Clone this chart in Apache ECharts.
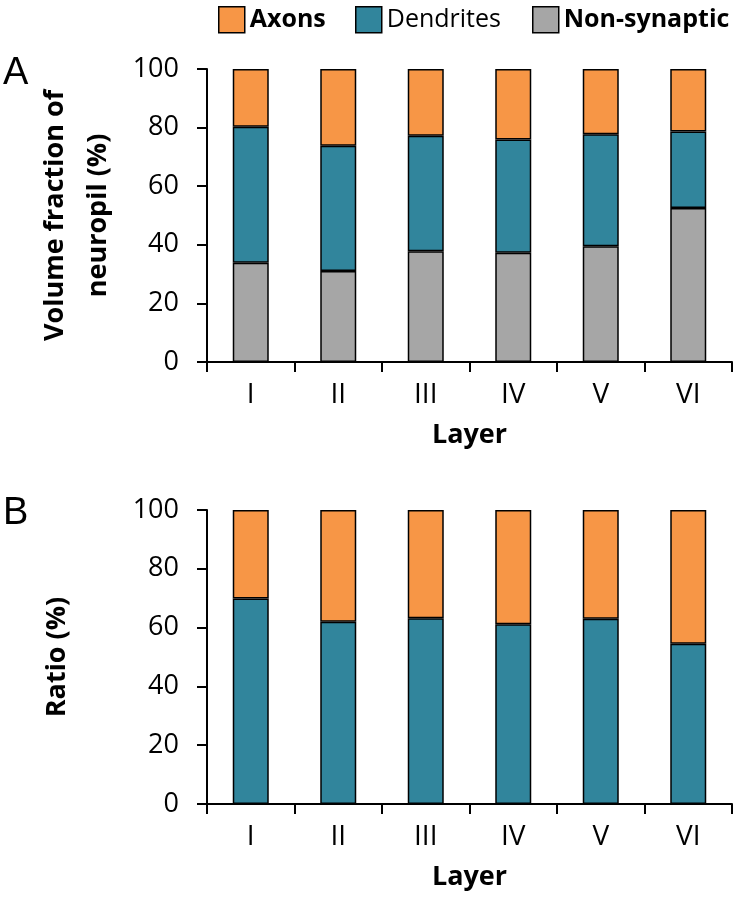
<!DOCTYPE html>
<html>
<head>
<meta charset="utf-8">
<script src="https://cdn.jsdelivr.net/npm/echarts@6/dist/echarts.min.js"></script>
<style>
html,body{margin:0;padding:0;background:#fff;}
#chart{width:735px;height:900px;}
</style>
</head>
<body>
<div id="chart"></div>
<script>
const categories = ['I', 'II', 'III', 'IV', 'V', 'VI'];
// Panel A: volume fraction of neuropil (%)
const volNonSynaptic = [33.9, 31.1, 37.8, 37.3, 39.5, 52.6];
const volDendrites = [46.4, 42.7, 39.4, 38.6, 38.2, 26.1];
const volAxons = [19.7, 26.2, 22.8, 24.1, 22.3, 21.3];
// Panel B: ratio (%)
const ratioDendrites = [69.9, 62.0, 63.2, 61.1, 63.0, 54.5];
const ratioAxons = [30.1, 38.0, 36.8, 38.9, 37.0, 45.5];
const yMin = 0, yMax = 100, yStep = 20;

const C_AX = '#F79646', C_DEN = '#31859C', C_NON = '#A6A6A6';
const FONT = 'Open Sans';

function legendFor(name, left) {
  return {
    data: [name], left: left, top: 1, itemWidth: 26, itemHeight: 26, itemGap: 0, itemTextGap: 10,
    icon: 'rect',
    itemStyle: { borderColor: '#000', borderWidth: 1.5 },
    textStyle: { fontFamily: FONT, fontSize: 25, color: '#000', fontWeight: name === 'Dendrites' ? 'normal' : 'bold' }
  };
}
function xAxisFor(gi) {
  return {
    type: 'category', gridIndex: gi, data: categories,
    name: 'Layer', nameLocation: 'middle', nameGap: 60,
    nameTextStyle: { fontFamily: FONT, fontSize: 27, fontWeight: 'bold', color: '#000' },
    axisLine: { lineStyle: { color: '#000', width: 2 } },
    axisTick: { show: true, length: 10, lineStyle: { color: '#000', width: 2 } },
    axisLabel: { fontFamily: FONT, fontSize: 28, color: '#000', margin: 19 }
  };
}
function yAxisFor(gi, name, gap, lh) {
  return {
    type: 'value', gridIndex: gi, min: yMin, max: yMax, interval: yStep,
    name: name, nameLocation: 'middle', nameGap: gap,
    nameTextStyle: { fontFamily: FONT, fontSize: 27, fontWeight: 'bold', color: '#000', lineHeight: lh },
    axisLine: { show: true, lineStyle: { color: '#000', width: 2 } },
    axisTick: { show: true, length: 10, lineStyle: { color: '#000', width: 2 } },
    axisLabel: { fontFamily: FONT, fontSize: 27, color: '#000', margin: 28 },
    splitLine: { show: false }
  };
}
function bar(name, data, color, gi, stack) {
  return {
    name: name, type: 'bar', stack: stack, xAxisIndex: gi, yAxisIndex: gi, data: data,
    barWidth: 36,
    itemStyle: { color: color, borderColor: '#000', borderWidth: 1.5 },
    emphasis: { disabled: true }
  };
}

const chart = echarts.init(document.getElementById('chart'), null, { renderer: 'canvas' });
chart.setOption({
  animation: false,
  backgroundColor: '#fff',
  title: [
    { text: 'A', left: -2, top: 50, textStyle: { fontFamily: 'Liberation Sans', fontSize: 38, fontWeight: 'normal', color: '#000' } },
    { text: 'B', left: -2, top: 490, textStyle: { fontFamily: 'Liberation Sans', fontSize: 38, fontWeight: 'normal', color: '#000' } }
  ],
  legend: [legendFor('Axons', 213), legendFor('Dendrites', 350), legendFor('Non-synaptic', 527)],
  grid: [
    { left: 207, top: 69, width: 525, height: 293 },
    { left: 207, top: 510, width: 525, height: 294 }
  ],
  xAxis: [xAxisFor(0), xAxisFor(1)],
  yAxis: [
    yAxisFor(0, 'Volume fraction of\nneuropil (%)', 87, 43),
    yAxisFor(1, 'Ratio (%)', 135, 30)
  ],
  series: [
    bar('Non-synaptic', volNonSynaptic, C_NON, 0, 'a'),
    bar('Dendrites', volDendrites, C_DEN, 0, 'a'),
    bar('Axons', volAxons, C_AX, 0, 'a'),
    bar('Dendrites', ratioDendrites, C_DEN, 1, 'b'),
    bar('Axons', ratioAxons, C_AX, 1, 'b')
  ]
});
</script>
</body>
</html>
